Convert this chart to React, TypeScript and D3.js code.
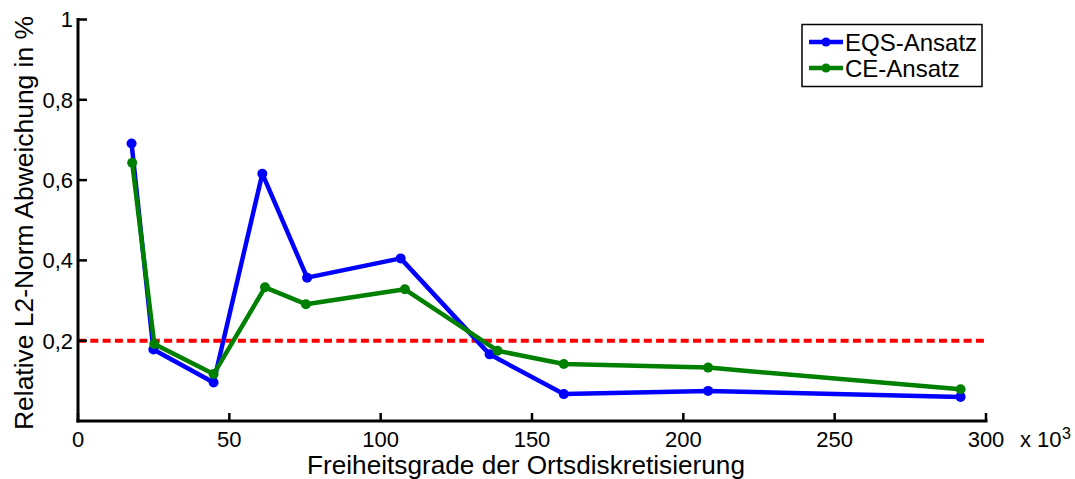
import React from "react";
import * as d3 from "d3";

const xEQS = [17.7, 24.9, 44.8, 60.9, 75.7, 106.6, 136.0, 160.5, 208.2, 291.6];
const yEQS = [0.691, 0.178, 0.096, 0.616, 0.357, 0.405, 0.166, 0.067, 0.075, 0.06];
const xCE = [17.9, 25.2, 44.8, 61.8, 75.3, 108.0, 138.6, 160.5, 208.2, 291.6];
const yCE = [0.643, 0.192, 0.117, 0.333, 0.291, 0.328, 0.175, 0.142, 0.133, 0.079];
const xTicks = [0, 50, 100, 150, 200, 250, 300];
const yTicks = [0.2, 0.4, 0.6, 0.8, 1];
const yTickLabels = ["0,2", "0,4", "0,6", "0,8", "1"];
const threshold = 0.2;
const seriesNames = ["EQS-Ansatz", "CE-Ansatz"];
const seriesColors = ["#0000ff", "#008000"];

export default function App() {
  const W = 1075, H = 479;
  const x = d3.scaleLinear().domain([0, 300]).range([78, 986]);
  const y = d3.scaleLinear().domain([0, 1]).range([421, 19.5]);
  const font = "'Liberation Sans', Arial, sans-serif";
  const line = d3.line<[number, number]>().x(d => x(d[0])).y(d => y(d[1]));
  const series = [
    { xs: xEQS, ys: yEQS },
    { xs: xCE, ys: yCE },
  ];
  return (
    <svg width={W} height={H} style={{ position: "absolute", left: 0, top: 0, background: "#fff" }} fontFamily={font}>
      <line x1={x(0)} x2={x(300)} y1={y(threshold)} y2={y(threshold)} stroke="#ff0000" strokeWidth={4} strokeDasharray="8,4.3" />
      {series.map((s, i) => {
        const pts: [number, number][] = s.xs.map((v, j) => [v, s.ys[j]]);
        return (
          <g key={i}>
            <path d={line(pts) || ""} fill="none" stroke={seriesColors[i]} strokeWidth={4.5} strokeLinejoin="round" />
            {pts.map((p, j) => (
              <circle key={j} cx={x(p[0])} cy={y(p[1])} r={5} fill={seriesColors[i]} />
            ))}
          </g>
        );
      })}
      <line x1={x(0)} x2={x(300)} y1={y(0)} y2={y(0)} stroke="#000" strokeWidth={3} strokeLinecap="square" />
      <line x1={x(0)} x2={x(0)} y1={y(0)} y2={y(1)} stroke="#000" strokeWidth={3} strokeLinecap="square" />
      {xTicks.map(t => (
        <g key={t}>
          <line x1={x(t)} x2={x(t)} y1={y(0)} y2={y(0) - 8} stroke="#000" strokeWidth={2.5} />
          <text x={x(t)} y={447} fontSize={22} textAnchor="middle">{t}</text>
        </g>
      ))}
      {yTicks.map((t, i) => (
        <g key={t}>
          <line x1={x(0)} x2={x(0) + 9} y1={y(t)} y2={y(t)} stroke="#000" strokeWidth={2.5} />
          <text x={73} y={y(t)} dy="0.36em" fontSize={22} textAnchor="end">{yTickLabels[i]}</text>
        </g>
      ))}
      <text x={1020} y={447} fontSize={22}>x 10</text>
      <text x={1062} y={439} fontSize={16}>3</text>
      <text x={307} y={474} fontSize={25} textLength={438} lengthAdjust="spacingAndGlyphs">Freiheitsgrade der Ortsdiskretisierung</text>
      <text transform="translate(32.5,430) rotate(-90)" fontSize={25.5} textLength={414} lengthAdjust="spacingAndGlyphs">Relative L2-Norm Abweichung in %</text>
      <rect x={802} y={24.5} width={180} height={62} fill="#fff" stroke="#000" strokeWidth={1.5} />
      {seriesNames.map((n, i) => {
        const ly = 42 + i * 26;
        return (
          <g key={n}>
            <line x1={809} x2={843} y1={ly} y2={ly} stroke={seriesColors[i]} strokeWidth={4.5} />
            <circle cx={826} cy={ly} r={4.5} fill={seriesColors[i]} />
            <text x={845} y={ly} dy="0.36em" fontSize={24}>{n}</text>
          </g>
        );
      })}
    </svg>
  );
}
